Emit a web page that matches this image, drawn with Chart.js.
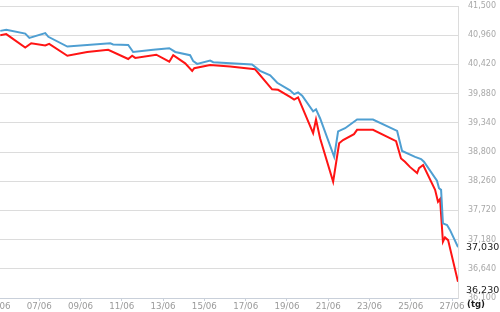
<!DOCTYPE html>
<html>
<head>
<meta charset="utf-8">
<script src="https://cdn.jsdelivr.net/npm/chart.js@4/dist/chart.umd.min.js"></script>
<style>
    html, body { margin: 0; padding: 0; background: #fff; overflow: hidden; }
    #wrap { position: absolute; left: -2px; top: 0; width: 502px; height: 312px; }
</style>
</head>
<body>
<div id="wrap"><canvas id="goldChart"></canvas></div>
<script>
/* ── DATA ───────────────────────────────────── */
// day of June (fractional) and price
const sellDays = [5.11, 5.40, 6.32, 6.52, 7.29, 7.44, 8.36, 10.44, 10.58, 11.31, 11.55, 12.52,
    13.30, 13.59, 14.31, 14.46, 14.65, 15.28, 15.43, 17.31, 17.70, 18.19, 18.53, 19.15,
    19.35, 19.54, 19.74, 20.27, 20.41, 20.61, 21.29, 21.48, 21.82, 22.40, 23.17, 24.34,
    24.58, 25.21, 25.50, 25.64, 26.27, 26.37, 26.47, 26.56, 26.76, 26.90, 27.29];
const sellPrices = [41040, 41060, 40990, 40910, 41000, 40930, 40750, 40810, 40790, 40780, 40650, 40690,
    40720, 40650, 40590, 40480, 40430, 40490, 40460, 40420, 40300, 40220, 40080, 39940,
    39870, 39900, 39840, 39550, 39590, 39420, 38710, 39180, 39240, 39400, 39400, 39190,
    38820, 38710, 38670, 38620, 38270, 38130, 38100, 37480, 37450, 37360, 37040];

const buyDays = [5.11, 5.40, 6.32, 6.61, 7.29, 7.48, 8.36, 9.32, 10.34, 11.31, 11.50, 11.65,
    12.67, 13.30, 13.49, 14.07, 14.41, 14.51, 15.28, 16.25, 17.46, 18.28, 18.57, 19.15,
    19.35, 19.54, 20.27, 20.41, 20.61, 21.24, 21.53, 21.72, 22.25, 22.40, 23.17, 24.29,
    24.53, 24.72, 24.97, 25.31, 25.40, 25.60, 26.18, 26.32, 26.42, 26.56, 26.66, 26.81, 27.29];
const buyPrices = [40960, 40980, 40730, 40810, 40770, 40800, 40580, 40650, 40690, 40520, 40580, 40540,
    40600, 40470, 40590, 40440, 40300, 40350, 40410, 40380, 40330, 39960, 39950, 39820,
    39770, 39810, 39150, 39400, 39050, 38250, 38960, 39020, 39130, 39210, 39210, 39000,
    38680, 38620, 38520, 38410, 38500, 38560, 38100, 37880, 37930, 37140, 37220, 37170, 36400];

const xTicks = [5, 7, 9, 11, 13, 15, 17, 19, 21, 23, 25, 27];
const yTicks = [36100, 36640, 37180, 37720, 38260, 38800, 39340, 39880, 40420, 40960, 41500];

const lastLabels = [37030, 36230];
const unitLabel = '(tg)';

/* ── CHART ──────────────────────────────────── */
const fmt = v => v.toLocaleString('en-US');
const toPoints = (xs, ys) => xs.map((x, i) => ({ x, y: ys[i] }));

const endLabelPlugin = {
    id: 'endLabels',
    afterDraw(chart) {
        const { ctx, scales: { x, y } } = chart;
        ctx.save();
        ctx.fillStyle = '#1a1a1a';
        ctx.font = '9.5px "DejaVu Sans"';
        ctx.textAlign = 'left';
        ctx.textBaseline = 'middle';
        lastLabels.forEach(v => {
            ctx.fillText(fmt(v), y.left + 8, y.getPixelForValue(v));
        });
        ctx.font = 'bold 8.5px "DejaVu Sans"';
        ctx.textBaseline = 'top';
        ctx.fillText(unitLabel, y.left + 9, x.top + 3);
        ctx.restore();
    }
};

new Chart(document.getElementById('goldChart'), {
    type: 'line',
    data: {
        datasets: [
            {
                label: 'Bán',
                data: toPoints(sellDays, sellPrices),
                borderColor: '#4f9fd2',
                borderWidth: 2,
                pointRadius: 0,
                tension: 0
            },
            {
                label: 'Mua',
                data: toPoints(buyDays, buyPrices),
                borderColor: '#ff1414',
                borderWidth: 2,
                pointRadius: 0,
                tension: 0
            }
        ]
    },
    options: {
        responsive: true,
        maintainAspectRatio: false,
        animation: false,
        devicePixelRatio: 1,
        layout: { padding: 0 },
        plugins: {
            legend: { display: false },
            tooltip: { enabled: false }
        },
        scales: {
            x: {
                type: 'linear',
                min: 5,
                max: 27.29,
                afterBuildTicks: s => { s.ticks = xTicks.map(v => ({ value: v })); },
                afterFit: s => { s.height = 14; s.paddingLeft = 0; s.paddingRight = 0; },
                grid: { drawOnChartArea: false, drawTicks: true, tickLength: 3, color: '#c9d0da' },
                border: { color: '#c9d0da' },
                ticks: {
                    padding: 1,
                    maxRotation: 0,
                    autoSkip: false,
                    color: '#9a9a9a',
                    font: { family: 'DejaVu Sans', size: 8.7 },
                    callback: v => String(v).padStart(2, '0') + '/06'
                }
            },
            y: {
                position: 'right',
                min: 36100,
                max: 41500,
                afterBuildTicks: s => { s.ticks = yTicks.map(v => ({ value: v })); },
                afterFit: s => { s.width = 42; s.paddingTop = 6; s.paddingBottom = 0; },
                grid: { color: '#dcdcdc', drawTicks: false },
                border: { color: '#dcdcdc' },
                ticks: {
                    padding: 10,
                    autoSkip: false,
                    color: '#a8a8a8',
                    font: { family: 'DejaVu Sans', size: 8 },
                    callback: v => fmt(v)
                }
            }
        }
    },
    plugins: [endLabelPlugin]
});
</script>
</body>
</html>
